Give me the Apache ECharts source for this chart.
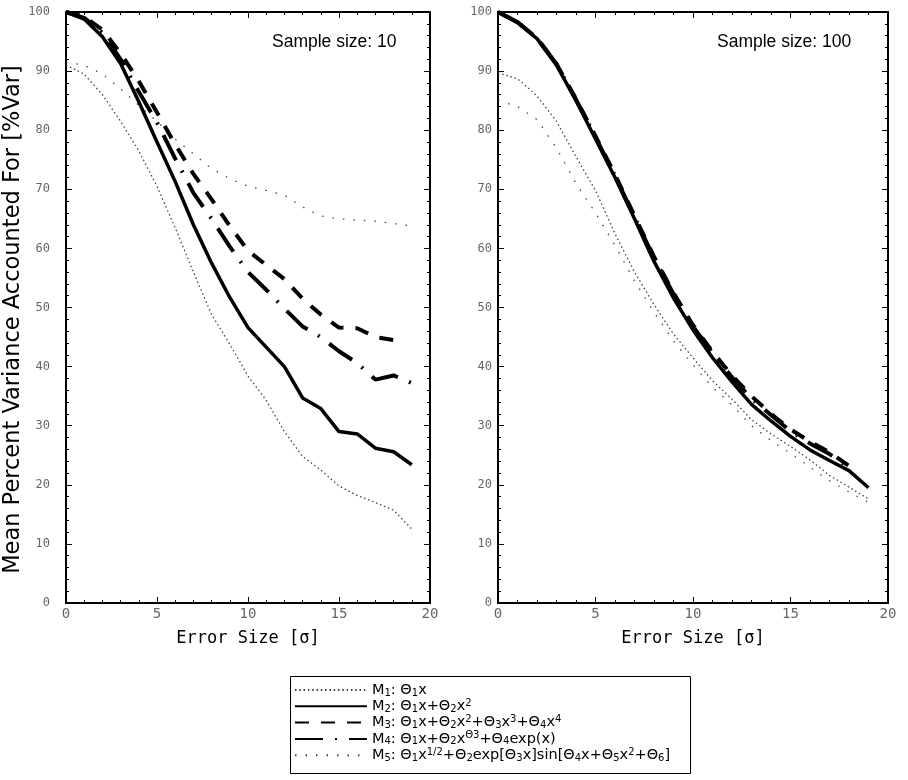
<!DOCTYPE html>
<html>
<head>
<meta charset="utf-8">
<script src="https://cdn.jsdelivr.net/npm/echarts@6/dist/echarts.min.js"></script>
<style>
  html, body { margin: 0; padding: 0; background: #fff; }
  #chart { width: 908px; height: 780px; }
</style>
</head>
<body>
<div id="chart"></div>
<script>
// error size (sigma) at each sample point
const errorSizes = [0, 1, 2, 3, 4, 5, 6, 7, 8, 9, 10, 11, 12, 13, 14, 15, 16, 17, 18, 19];

// sample size 10
const n10M1 = [91, 89.5, 86, 81.5, 76.5, 70.5, 63.5, 56, 48.8, 43.8, 38.4, 34.3, 29, 24.8, 22.5, 19.8, 18.2, 17, 15.7, 12.5];
const n10M2 = [100, 98.8, 95.8, 91.3, 84.8, 78, 71.3, 64, 57.5, 51.7, 46.6, 43.3, 40, 34.7, 32.9, 29, 28.6, 26.2, 25.6, 23.4];
const n10M3 = [100, 99.2, 97, 93, 88.3, 83, 77.6, 72.6, 68.3, 63.8, 59.6, 57.2, 54.8, 51.5, 48.8, 46.6, 46.5, 45, 44.5];
const n10M4 = [100, 99, 96.5, 92, 86.5, 81.3, 75.2, 69.4, 65, 60.3, 56, 53, 49.8, 46.8, 45, 42.6, 40.6, 37.8, 38.5, 37.2];
const n10M5 = [91.5, 91, 89.5, 87, 84.2, 81.5, 78.5, 76, 73.5, 71.8, 70.5, 69.8, 69, 67, 65.5, 65, 64.8, 64.6, 64.2, 63.8];

// sample size 100
const n100M1 = [89.7, 88.7, 85.8, 81.5, 75.5, 69.8, 62.5, 56, 50.5, 45.5, 41.5, 37.6, 34.5, 31, 28.6, 26.5, 24.2, 21.6, 19.6, 17.6];
const n100M2 = [100, 98.2, 95.5, 91, 85, 78.5, 72, 65, 57.8, 51.6, 46.2, 41.5, 37.4, 33.6, 30.8, 28.2, 25.9, 24.1, 22.4, 19.5];
const n100M3 = [100, 98.3, 95.6, 91.2, 85.3, 79, 72.5, 65.5, 58.6, 52.5, 47, 42.5, 38.5, 35, 32, 29.4, 27.3, 25.5, 23.2];
const n100M4 = [100, 98.3, 95.6, 91.2, 85.2, 78.8, 72.3, 65.3, 58.4, 52.3, 46.8, 42.3, 38.2, 34.6, 31.8, 29.1, 27, 25.2, 23];
const n100M5 = [85, 84, 81.8, 77, 71, 66, 60.5, 54.5, 49.2, 44.3, 40.3, 36.5, 33.5, 30, 27.5, 25.3, 23, 20.7, 18.8, 17];

const xTicks = [0, 5, 10, 15, 20];
const yTicks = [0, 10, 20, 30, 40, 50, 60, 70, 80, 90, 100];

const modelNames = ['M1', 'M2', 'M3', 'M4', 'M5'];
const modelLabels = [
  'M{s|1}: Θ{s|1}x',
  'M{s|2}: Θ{s|1}x+Θ{s|2}x{p|2}',
  'M{s|3}: Θ{s|1}x+Θ{s|2}x{p|2}+Θ{s|3}x{p|3}+Θ{s|4}x{p|4}',
  'M{s|4}: Θ{s|1}x+Θ{s|2}x{p|Θ3}+Θ{s|4}exp(x)',
  'M{s|5}: Θ{s|1}x{p|1/2}+Θ{s|2}exp[Θ{s|3}x]sin[Θ{s|4}x+Θ{s|5}x{p|2}+Θ{s|6}]'
];

const lineStyles = {
  M1: { color: '#444', width: 1.3, type: [1.5, 2.8] },
  M2: { color: '#000', width: 3.5, type: 'solid' },
  M3: { color: '#000', width: 4, type: [14, 12] },
  M4: { color: '#000', width: 4, type: [28, 12, 2, 12] },
  M5: { color: '#444', width: 1.3, type: [1.5, 9] }
};

const myChart = echarts.init(document.getElementById('chart'));

const pairs = (ys) => ys.map((v, i) => [errorSizes[i], v]);

const mkLine = (name, ys, idx) => ({
  name: name,
  type: 'line',
  xAxisIndex: idx * 2,
  yAxisIndex: idx * 2,
  data: pairs(ys),
  symbol: 'none',
  showSymbol: false,
  lineStyle: lineStyles[name],
  itemStyle: { color: lineStyles[name].color },
  z: name === 'M2' ? 3 : 2
});

// fresh copy per axis so echarts doesn't share objects
const tickStyle = () => ({
  axisTick: { show: true, inside: true, length: 6, lineStyle: { color: '#000', width: 1 } },
  minorTick: { show: true, splitNumber: 5, length: 3, lineStyle: { color: '#000', width: 1 } },
  splitLine: { show: false },
  minorSplitLine: { show: false },
  axisLine: { show: true, onZero: false, lineStyle: { color: '#000', width: 2 } }
});

const labelStyle = { color: '#666', fontFamily: 'DejaVu Sans Mono' };

const mkX = (grid, pos, labels) => Object.assign({
  type: 'value', gridIndex: grid, position: pos, min: 0, max: 20, interval: 5,
  axisLabel: labels ? Object.assign({ show: true, margin: 4, fontSize: 14, formatter: (v) => xTicks.includes(v) ? String(v) : '' }, labelStyle) : { show: false },
  name: labels ? 'Error Size [σ]' : '',
  nameLocation: 'middle',
  nameGap: 27,
  nameTextStyle: { color: '#000', fontSize: 17, fontFamily: 'DejaVu Sans Mono' }
}, tickStyle());

const mkY = (grid, pos, labels, margin, title) => Object.assign({
  type: 'value', gridIndex: grid, position: pos, min: 0, max: 100, interval: 10,
  axisLabel: labels ? Object.assign({ show: true, margin: margin, fontSize: 12, formatter: (v) => yTicks.includes(v) ? String(v) : '' }, labelStyle) : { show: false },
  name: title ? 'Mean Percent Variance Accounted For [%Var]' : '',
  nameLocation: 'middle',
  nameGap: 38,
  nameTextStyle: { color: '#000', fontSize: 22.5, fontFamily: 'DejaVu Sans', padding: [0, 24, 0, 0] }
}, tickStyle());

const options = {
  animation: false,
  backgroundColor: '#fff',
  grid: [
    { left: 66, top: 12, width: 364, height: 591 },
    { left: 498, top: 12, width: 390, height: 591 }
  ],
  xAxis: [mkX(0, 'bottom', true), mkX(0, 'top', false), mkX(1, 'bottom', true), mkX(1, 'top', false)],
  yAxis: [mkY(0, 'left', true, 16, true), mkY(0, 'right', false), mkY(1, 'left', true, 6, false), mkY(1, 'right', false)],
  title: [
    { text: 'Sample size: 10', left: 267, top: 28, textStyle: { fontSize: 17.5, fontWeight: 'normal', color: '#000', fontFamily: 'Liberation Sans' } },
    { text: 'Sample size: 100', left: 712, top: 28, textStyle: { fontSize: 17.5, fontWeight: 'normal', color: '#000', fontFamily: 'Liberation Sans' } }
  ],
  legend: {
    data: modelNames,
    orient: 'vertical',
    left: 294,
    top: 682,
    itemWidth: 72,
    itemHeight: 16,
    itemGap: 0.3,
    padding: 0,
    selectedMode: false,
    itemStyle: { opacity: 0 },
    formatter: (name) => modelLabels[modelNames.indexOf(name)],
    textStyle: {
      color: '#000', fontSize: 14.5, lineHeight: 16, fontFamily: 'DejaVu Sans',
      rich: {
        s: { fontSize: 10, lineHeight: 9, verticalAlign: 'bottom', fontFamily: 'DejaVu Sans' },
        p: { fontSize: 10, lineHeight: 9, verticalAlign: 'top', fontFamily: 'DejaVu Sans' }
      }
    }
  },
  graphic: [
    { type: 'rect', left: 288, top: 674, shape: { width: 400, height: 97 }, style: { fill: 'none', stroke: '#000', lineWidth: 1 } }
  ],
  series: [
    mkLine('M1', n10M1, 0),
    mkLine('M5', n10M5, 0),
    mkLine('M4', n10M4, 0),
    mkLine('M3', n10M3, 0),
    mkLine('M2', n10M2, 0),
    mkLine('M1', n100M1, 1),
    mkLine('M5', n100M5, 1),
    mkLine('M4', n100M4, 1),
    mkLine('M3', n100M3, 1),
    mkLine('M2', n100M2, 1)
  ]
};

myChart.setOption(options);
</script>
</body>
</html>
